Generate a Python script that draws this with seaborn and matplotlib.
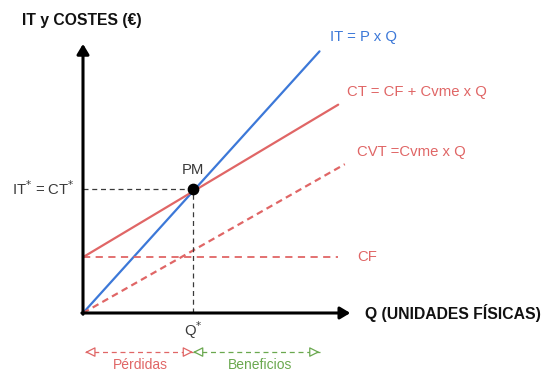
import numpy as np
import pandas as pd
import seaborn as sns
import matplotlib.pyplot as plt

# values (Q in units, money in €)
q_it = [0, 21.5]
it = [0, 211]
q_ct = [0, 23.2]
ct = [45, 168]
q_cvt = [0, 23.8]
cvt = [0, 120]
q_cf = [0, 23.2]
cf = [45, 45]
q_star = 10
it_star = 100

blue = '#3c78d8'
red = '#e06666'
green = '#6aa84f'
grey = '#3a3a3a'

sns.set_theme(style="white")
plt.rcParams['font.family'] = ['Liberation Sans', 'DejaVu Sans']

fig = plt.figure(figsize=(5.46, 3.72), dpi=100)
ax = fig.add_axes([0, 0, 1, 1])
ax.axis('off')
ax.set_xlim(-83 / 11, (546 - 83) / 11)
ax.set_ylim(-(372 - 313) / 1.24, 313 / 1.24)

# curves
sns.lineplot(x=q_it, y=it, color=blue, lw=1.6, ax=ax)
sns.lineplot(x=q_ct, y=ct, color=red, lw=1.6, ax=ax)
sns.lineplot(x=q_cvt, y=cvt, color=red, lw=1.6, ax=ax, linestyle=(0, (3, 2)))
sns.lineplot(x=q_cf, y=cf, color=red, lw=1.3, ax=ax, linestyle=(0, (4, 3)))

# guide lines to the break-even point
ax.plot([0, q_star], [it_star, it_star], color=grey, lw=0.9, linestyle=(0, (4, 3)))
ax.plot([q_star, q_star], [0, it_star], color=grey, lw=0.9, linestyle=(0, (4, 3)))

# axes with arrows
arr = dict(arrowstyle='-|>,head_width=0.3,head_length=0.5', color='black', lw=2.2, shrinkA=0, shrinkB=0)
ax.annotate('', xy=(0, 217), xytext=(0, -1), arrowprops=arr)
ax.annotate('', xy=(24.3, 0), xytext=(-0.1, 0), arrowprops=arr)

ax.scatter([q_star], [it_star], s=55, color='black', zorder=5)

# labels
ax.text(-5.55, 236, 'IT y COSTES (€)', fontsize=11.3, fontweight='bold', va='center', color='#111111')
ax.text(25.6, 0, 'Q (UNIDADES FÍSICAS)', fontsize=11.3, fontweight='bold', va='center', color='#111111')
ax.text(22.45, 222.6, 'IT = P x Q', fontsize=10.7, va='center', color=blue)
ax.text(24.0, 178.2, 'CT = CF + Cvme x Q', fontsize=10.7, va='center', color=red)
ax.text(24.9, 129.8, 'CVT =Cvme x Q', fontsize=10.7, va='center', color=red)
ax.text(24.9, 45, 'CF', fontsize=10.7, va='center', color=red)
ax.text(-0.73, it_star, 'IT$^{*}$ = CT$^{*}$', fontsize=10.7, va='center', ha='right', color=grey)
ax.text(q_star, 115.3, 'PM', fontsize=10.7, va='center', ha='center', color=grey)
ax.text(q_star, -13.7, 'Q$^{*}$', fontsize=10.7, va='center', ha='center', color=grey)

# losses / profits ranges
y_arr = -31.5
for x0, x1, c in [(0.2, q_star, red), (q_star, 21.5, green)]:
    ax.plot([x0, x1], [y_arr, y_arr], color=c, lw=0.9, linestyle=(0, (4, 3)))
    head = dict(arrowstyle='-|>,head_width=0.25,head_length=0.5', fc='white', ec=c, lw=0.9, shrinkA=0, shrinkB=0)
    ax.annotate('', xy=(x0, y_arr), xytext=(x0 + 0.6, y_arr), arrowprops=head)
    ax.annotate('', xy=(x1, y_arr), xytext=(x1 - 0.6, y_arr), arrowprops=head)
ax.text(5.2, -41.8, 'Pérdidas', fontsize=10, va='center', ha='center', color=red)
ax.text(16.1, -41.8, 'Beneficios', fontsize=10, va='center', ha='center', color=green)

fig.savefig('out.png', dpi=100)
